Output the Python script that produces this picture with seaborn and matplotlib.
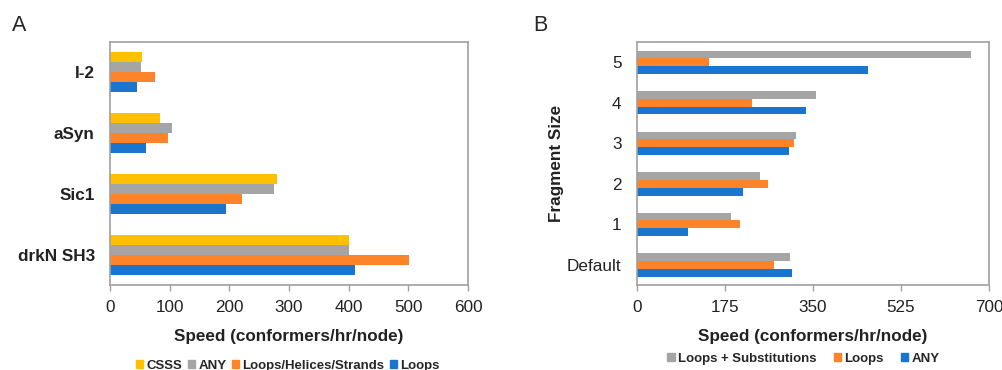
import pandas as pd
import matplotlib.pyplot as plt
import seaborn as sns
from matplotlib.patches import Patch

# Panel A data
proteins = ["I-2", "aSyn", "Sic1", "drkN SH3"]
methods_a = ["CSSS", "ANY", "Loops/Helices/Strands", "Loops"]
speed_csss = [54, 83, 280, 401]
speed_any_a = [52, 104, 274, 400]
speed_lhs = [75, 98, 222, 501]
speed_loops_a = [45, 60, 194, 411]

# Panel B data
frag_sizes = ["5", "4", "3", "2", "1", "Default"]
methods_b = ["Loops + Substitutions", "Loops", "ANY"]
speed_loops_subs = [665, 356, 317, 245, 188, 304]
speed_loops_b = [144, 229, 312, 260, 205, 273]
speed_any_b = [459, 337, 302, 211, 101, 309]

yellow, gray, orange, blue = "#FFC000", "#A5A5A5", "#FF8329", "#1A75CF"
palette_a = dict(zip(methods_a, [yellow, gray, orange, blue]))
palette_b = dict(zip(methods_b, [gray, orange, blue]))

rows = []
for m, vals in zip(methods_a, [speed_csss, speed_any_a, speed_lhs, speed_loops_a]):
    for p, v in zip(proteins, vals):
        rows.append({"protein": p, "method": m, "speed": v})
df_a = pd.DataFrame(rows)

rows = []
for m, vals in zip(methods_b, [speed_loops_subs, speed_loops_b, speed_any_b]):
    for f, v in zip(frag_sizes, vals):
        rows.append({"frag": f, "method": m, "speed": v})
df_b = pd.DataFrame(rows)

sns.set_style("white")
plt.rcParams["font.family"] = ["Liberation Sans", "DejaVu Sans"]

fig = plt.figure(figsize=(10.03, 3.70), dpi=100)
ax_a = fig.add_axes([0.1097, 0.2297, 0.3569, 0.6568])
ax_b = fig.add_axes([0.6348, 0.2297, 0.3512, 0.6568])

sns.barplot(data=df_a, y="protein", x="speed", hue="method", order=proteins,
            hue_order=methods_a, palette=palette_a, width=0.66, linewidth=0,
            saturation=1, legend=False, ax=ax_a)
sns.barplot(data=df_b, y="frag", x="speed", hue="method", order=frag_sizes,
            hue_order=methods_b, palette=palette_b, width=0.58, linewidth=0,
            saturation=1, legend=False, ax=ax_b)

spine_col = "#A0A0A0"
for ax, xmax, step in [(ax_a, 600, 100), (ax_b, 700, 175)]:
    ax.set_xlim(0, xmax)
    ax.set_xticks(range(0, xmax + 1, step))
    for s in ax.spines.values():
        s.set_visible(True)
        s.set_color(spine_col)
        s.set_linewidth(1.2)
    ax.tick_params(axis="x", bottom=True, length=4, width=1, color=spine_col,
                   labelsize=12.3, pad=7, labelcolor="#222222")
    ax.tick_params(axis="y", left=False, length=0, pad=11, labelsize=12.3,
                   labelcolor="#222222")
    ax.set_xlabel("Speed (conformers/hr/node)", fontsize=12.3,
                  fontweight="bold", labelpad=10, color="#222222")
    ax.grid(False)

ax_a.set_ylabel("")
for lbl in ax_a.get_yticklabels():
    lbl.set_fontweight("bold")
ax_b.set_ylabel("Fragment Size", fontsize=12.3, fontweight="bold",
                labelpad=2, color="#222222")

fig.text(0.019, 0.932, "A", fontsize=15.5, ha="center", va="center")
fig.text(0.539, 0.932, "B", fontsize=15.5, ha="center", va="center")

leg_kw = dict(loc="center", ncol=4, frameon=False, handlelength=0.55,
              handleheight=0.55, handletextpad=0.25,
              prop={"weight": "bold", "size": 9.5})
handles_a = [Patch(color=palette_a[m]) for m in methods_a]
fig.legend(handles_a, methods_a, bbox_to_anchor=(0.287, 0.012),
           columnspacing=0.4, **leg_kw)
leg_kw["ncol"] = 3
handles_b = [Patch(color=palette_b[m]) for m in methods_b]
fig.legend(handles_b, methods_b, bbox_to_anchor=(0.801, 0.030),
           columnspacing=1.3, **leg_kw)

plt.savefig("out.png", dpi=100)
